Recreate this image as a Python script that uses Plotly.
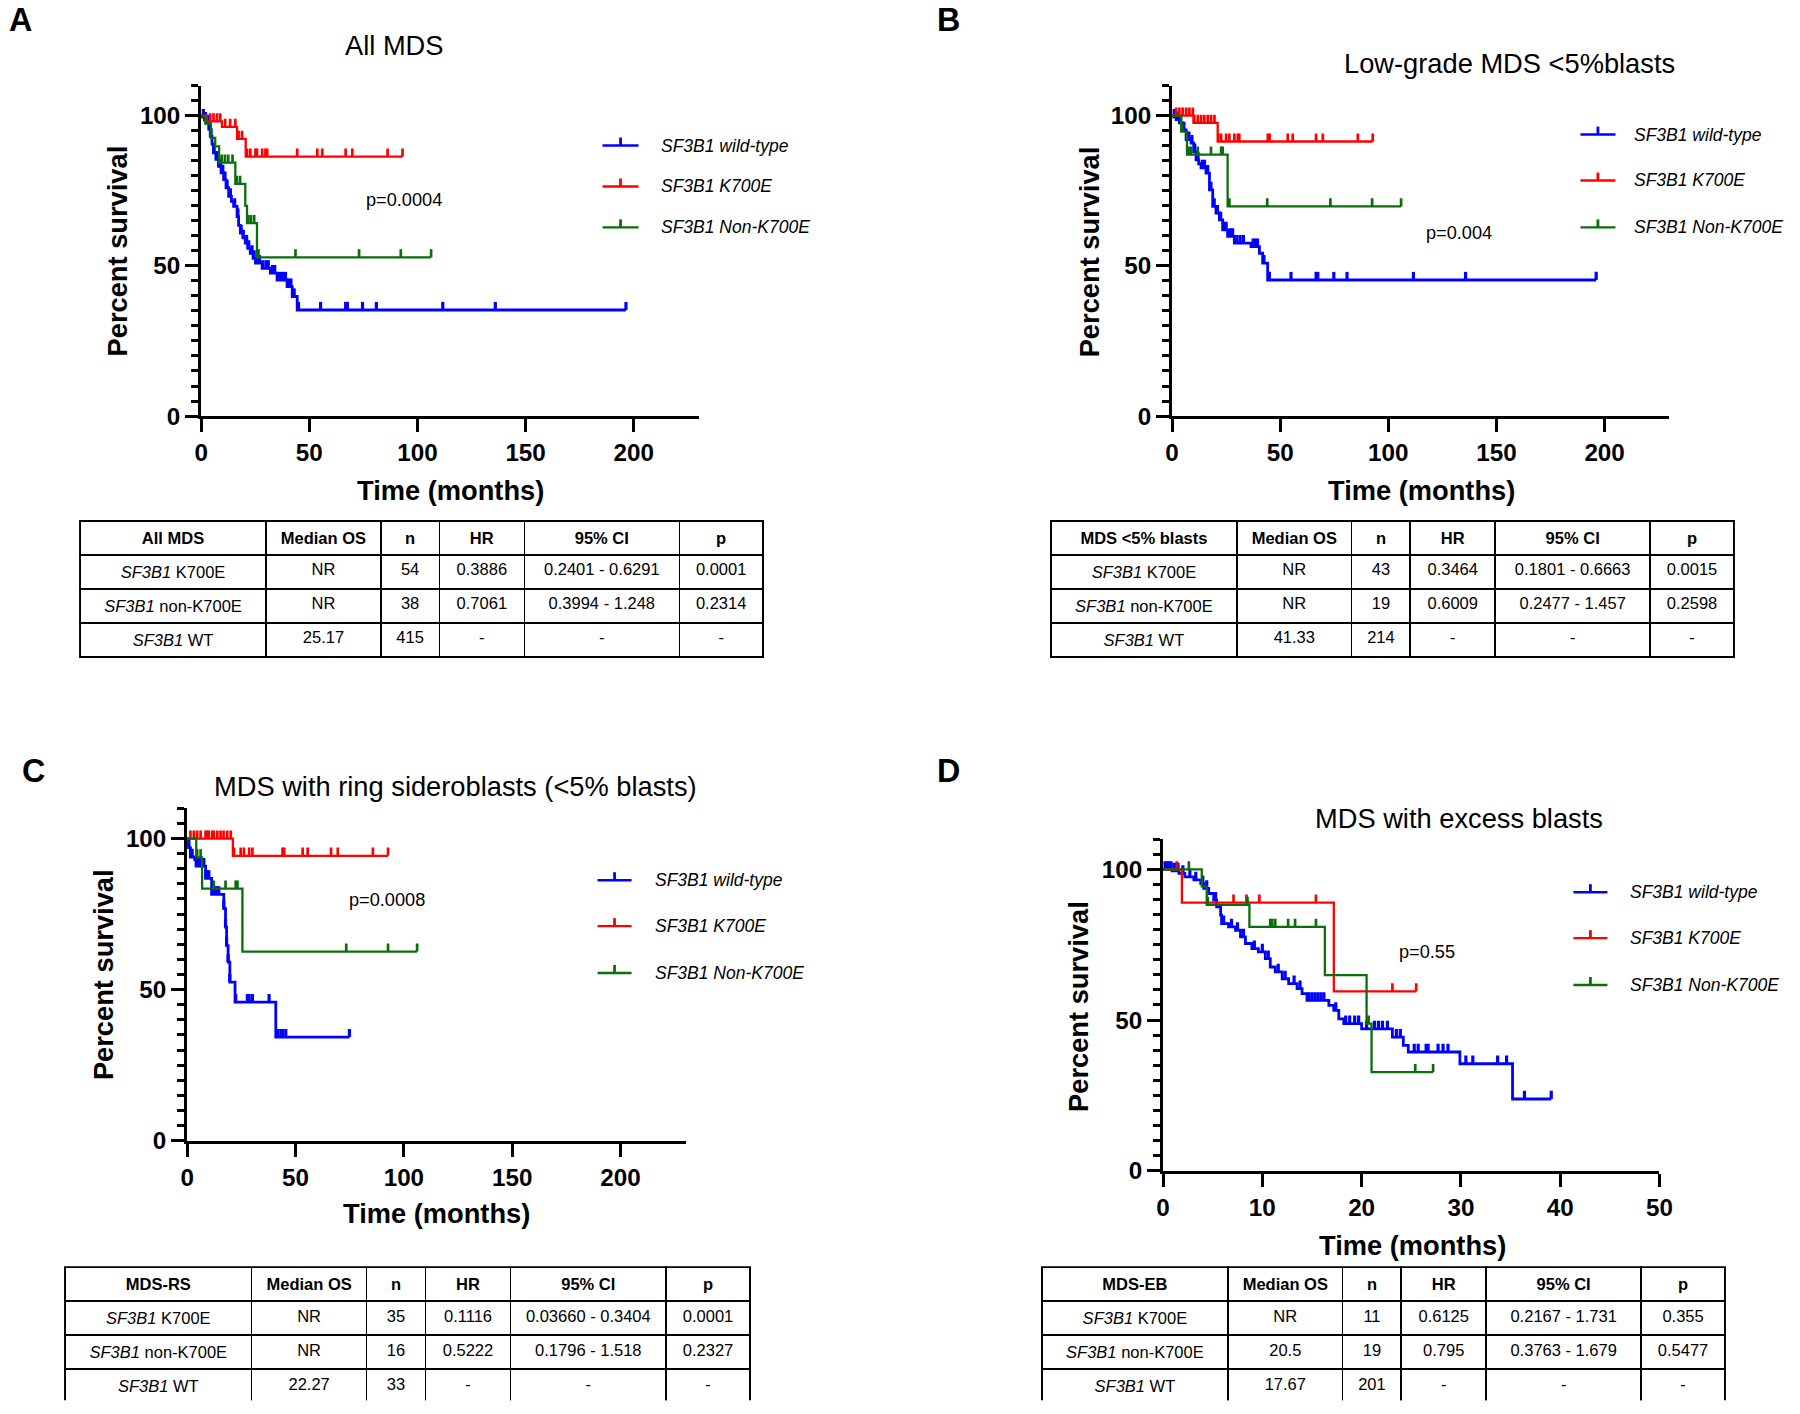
import plotly.graph_objects as go

W, H = 1800, 1414
FONT = "Liberation Sans, Arial, sans-serif"
BLUE, RED, GREEN = "#0000FF", "#FF0000", "#0A6E0A"

# ---------------- Panel A: All MDS ----------------
A_wt_t = [0.5, 1.5, 2.6, 3.5, 4.2, 5.0, 5.7, 6.8, 8.0, 9.2, 10.4, 11.5, 12.7, 14.0, 15.0, 16.6, 17.3, 18.1,
          19.3, 20.4, 21.5, 22.7, 24.0, 25.1, 28.2, 32.0, 35.1, 39.7, 42.1, 44.4]
A_wt_s = [99.5, 98.5, 97.6, 95.5, 93.1, 90.5, 87.6, 85.5, 83.1, 81.0, 78.7, 76.0, 73.1, 71.5, 69.8, 66.4, 63.5, 60.9,
          59.3, 57.6, 55.8, 54.2, 52.5, 50.9, 49.2, 47.6, 45.3, 43.1, 39.8, 35.3]
A_wt_c = [1.0, 2.0, 3.0, 4.6, 6.0, 7.5, 9.0, 10.0, 11.0, 12.0, 13.5, 15.5, 17.0, 18.5, 19.5, 21.0, 22.0, 23.5,
          24.5, 26.0, 27.0, 28.5, 30.0, 31.0, 33.0, 34.0, 36.0, 37.0, 38.0, 39.0, 40.5, 41.5, 43.0, 45.0,
          55.2, 66.8, 67.6, 74.6, 81.0, 111.7, 136.0, 196.4]
A_k7_t = [2.6, 9.6, 16.6, 20.6]
A_k7_s = [98.1, 96.3, 92.3, 86.4]
A_k7_c = [4.2, 5.7, 7.3, 8.8, 11.1, 13.4, 15.8, 17.3, 18.9, 21.2, 22.7, 25.1, 25.8, 28.2, 29.7, 30.5,
          44.4, 53.7, 56.0, 66.8, 69.9, 86.2, 93.1]
A_nk_t = [1.9, 4.5, 6.5, 8.3, 15.8, 20.4, 21.2, 25.8]
A_nk_s = [97.4, 92.6, 89.8, 84.4, 77.3, 70.0, 64.2, 52.8]
A_nk_c = [9.5, 11.0, 12.5, 14.5, 16.5, 18.0, 21.8, 23.0, 24.5, 26.5, 43.6, 73.0, 92.3, 106.3]

# ---------------- Panel B: Low-grade MDS <5% blasts ----------------
B_wt_t = [0.8, 1.9, 3.4, 4.9, 6.5, 8.8, 10.0, 11.1, 12.3, 13.4, 15.7, 17.3, 18.8, 20.3, 21.9, 23.4, 25.7, 28.8,
          36.5, 40.4, 41.9, 44.2]
B_wt_s = [99.5, 98.7, 97.6, 95.3, 92.0, 90.9, 88.0, 85.3, 84.0, 82.6, 80.9, 75.3, 69.8, 67.6, 65.3, 62.0, 59.8, 57.6,
          56.4, 54.2, 50.9, 45.3]
B_wt_c = [1.0, 2.5, 4.0, 5.5, 7.0, 7.8, 9.2, 10.5, 12.0, 14.0, 15.0, 16.5, 18.0, 19.5, 21.0, 22.5, 24.0, 25.0,
          27.0, 28.0, 30.0, 31.5, 33.0, 37.5, 38.5, 39.5, 42.5, 45.0, 55.0, 66.6, 67.4, 74.8, 80.9, 111.6, 135.7, 196.1]
B_k7_t = [9.9, 21.1]
B_k7_s = [97.6, 91.4]
B_k7_c = [1.9, 3.4, 4.9, 6.5, 8.0, 9.6, 10.3, 11.9, 13.4, 14.9, 16.5, 18.0, 19.6, 21.4, 22.7, 25.0, 26.5, 28.8,
          30.4, 31.1, 44.3, 45.1, 53.5, 55.8, 66.6, 69.7, 85.9, 92.8]
B_nk_t = [4.2, 6.9, 25.7]
B_nk_s = [94.7, 87.0, 69.8]
B_nk_c = [4.6, 8.0, 8.8, 11.9, 18.0, 22.7, 23.4, 26.5, 44.0, 73.2, 92.5, 105.9]

# ---------------- Panel C: MDS with ring sideroblasts ----------------
C_wt_t = [0.5, 1.5, 3.5, 4.1, 8.5, 11.3, 16.9, 17.7, 18.2, 18.9, 19.7, 22.1, 40.9]
C_wt_s = [97.0, 93.9, 93.0, 90.9, 86.8, 81.5, 76.8, 70.7, 64.6, 59.1, 52.5, 45.9, 34.3]
C_wt_c = [0.8, 2.3, 4.6, 5.4, 6.2, 6.9, 7.7, 8.8, 9.3, 10.0, 11.6, 12.3, 13.1, 13.9, 14.6, 16.9, 17.7, 18.2,
          18.9, 19.7, 22.4, 27.8, 28.6, 30.1, 37.8, 41.7, 43.2, 44.0, 45.5, 74.9]
C_k7_t = [21.1]
C_k7_s = [94.3]
C_k7_c = [1.5, 3.1, 4.6, 6.2, 8.5, 9.2, 10.0, 11.6, 12.3, 13.9, 15.4, 16.8, 18.5, 20.1, 21.6, 24.7, 26.2, 28.6,
          30.1, 44.0, 44.8, 53.3, 55.6, 66.4, 69.5, 85.7, 92.7]
C_nk_t = [4.2, 6.9, 25.5]
C_nk_s = [93.8, 83.4, 62.6]
C_nk_c = [4.6, 6.2, 12.3, 17.7, 22.4, 23.2, 73.4, 92.7, 106.1]

# ---------------- Panel D: MDS with excess blasts ----------------
D_wt_t = [0.9, 1.6, 2.2, 3.1, 3.8, 4.1, 4.6, 5.1, 5.4, 5.8, 5.9, 6.6, 7.3, 7.8, 8.3, 8.95, 9.6, 10.3, 10.8, 11.3,
          12.0, 12.65, 13.5, 14.0, 14.5, 16.7, 17.2, 17.7, 18.2, 20.0, 23.1, 24.2, 24.7, 29.9, 35.2]
D_wt_s = [99.5, 98.7, 97.5, 96.5, 95.3, 93.7, 92.0, 89.8, 87.6, 84.8, 82.0, 80.9, 79.8, 77.6, 75.4, 73.7, 72.6, 70.4,
          67.6, 66.0, 63.7, 62.1, 60.4, 58.8, 56.5, 54.9, 53.2, 50.4, 48.8, 47.1, 44.3, 41.6, 39.4, 35.5, 23.8]
D_wt_c = [0.2, 0.4, 0.6, 0.8, 1.1, 1.3, 1.5, 2.0, 2.7, 3.3, 4.0, 4.4, 5.3, 6.1, 6.9, 7.5, 8.1, 9.2, 10.0, 10.6,
          11.6, 12.3, 13.2, 13.8, 14.7, 15.0, 15.3, 15.6, 15.9, 16.2, 17.4, 18.4, 18.8, 19.3, 19.7, 20.5, 21.3,
          21.7, 22.1, 22.6, 23.5, 23.9, 25.3, 25.7, 26.5, 26.7, 27.7, 28.2, 28.7, 30.5, 31.2, 33.7, 34.6, 36.4, 39.1]
D_k7_t = [1.9, 17.2]
D_k7_s = [89.0, 59.5]
D_k7_c = [1.4, 7.1, 8.4, 9.7, 15.4, 23.1, 25.5]
D_nk_t = [3.9, 4.4, 8.7, 16.3, 20.5, 21.0]
D_nk_s = [94.4, 88.2, 80.9, 64.9, 48.8, 32.7]
D_nk_c = [2.6, 4.5, 8.5, 10.8, 11.0, 11.3, 12.6, 13.3, 15.4, 20.7, 25.4, 27.2]

# ---------------- Text ----------------
panel_titles = ["All MDS", "Low-grade MDS <5%blasts", "MDS with ring sideroblasts (<5% blasts)", "MDS with excess blasts"]
panel_letters = ["A", "B", "C", "D"]
p_values = ["p=0.0004", "p=0.004", "p=0.0008", "p=0.55"]
legend_labels = ["SF3B1 wild-type", "SF3B1 K700E", "SF3B1 Non-K700E"]
x_title, y_title = "Time (months)", "Percent survival"

table_headers = [["All MDS", "Median OS", "n", "HR", "95% CI", "p"],
                 ["MDS <5% blasts", "Median OS", "n", "HR", "95% CI", "p"],
                 ["MDS-RS", "Median OS", "n", "HR", "95% CI", "p"],
                 ["MDS-EB", "Median OS", "n", "HR", "95% CI", "p"]]
row_labels = ["<i>SF3B1</i> K700E", "<i>SF3B1</i> non-K700E", "<i>SF3B1</i> WT"]
A_median = ["NR", "NR", "25.17"]; A_n = ["54", "38", "415"]; A_hr = ["0.3886", "0.7061", "-"]
A_ci = ["0.2401 - 0.6291", "0.3994 - 1.248", "-"]; A_p = ["0.0001", "0.2314", "-"]
B_median = ["NR", "NR", "41.33"]; B_n = ["43", "19", "214"]; B_hr = ["0.3464", "0.6009", "-"]
B_ci = ["0.1801 - 0.6663", "0.2477 - 1.457", "-"]; B_p = ["0.0015", "0.2598", "-"]
C_median = ["NR", "NR", "22.27"]; C_n = ["35", "16", "33"]; C_hr = ["0.1116", "0.5222", "-"]
C_ci = ["0.03660 - 0.3404", "0.1796 - 1.518", "-"]; C_p = ["0.0001", "0.2327", "-"]
D_median = ["NR", "20.5", "17.67"]; D_n = ["11", "19", "201"]; D_hr = ["0.6125", "0.795", "-"]
D_ci = ["0.2167 - 1.731", "0.3763 - 1.679", "-"]; D_p = ["0.355", "0.5477", "-"]

# ---------------- Layout geometry (target pixels) ----------------
plot_boxes = [(201, 698, 85, 416), (1171, 1668, 85, 416), (187, 685, 809, 1142), (1162, 1658, 840, 1172)]
x_ranges = [230, 230, 230, 50]
x_ticks = [[0, 50, 100, 150, 200]] * 3 + [[0, 10, 20, 30, 40, 50]]
p_pos = [(404, 200), (1458, 233), (387, 901), (1426, 953)]
title_pos = [(394, 45), (1508, 63), (455, 787), (1458, 819)]
letter_pos = [(None, None), (948, None), (33, 772), (948, 772)]
ytitle_pos = [(117, 251), (1088, 251), (103, 976), (1078, 1007)]
xtitle_pos = [(450, 491), (1420, 491), (436, 1215), (1411, 1247)]
legend_geo = [(602, 638, 658, [145, 186, 227]), (1579, 1614, 1631, [134, 180, 227]),
              (597, 631, 652, [881, 927, 974]), (1572, 1606, 1627, [893, 939, 986])]
# tables: (left, right, top, bottom, row height); the lower pair sits on the page edge
table_boxes = [(80, 763, 521, 675, 34), (1050, 1733, 521, 675, 34), (65, 750, 1279, None, 31.5),
               (1041, 1724, 1279, None, 31.5)]
col_widths = [162, 100, 51, 74, 135, 73]
TICK = 2.7
SX, OX, SY, OY = 0.988, 7.0, 0.9926, -0.8
FS = 1.01


def px(x):
    return ((x - OX) / SX) / W


def py(y):
    return 1 - ((y - OY) / SY) / H


def step_xy(t, s, c):
    end = max(c + t)
    return [0] + t + [end], [100] + s + [s[-1]]


def surv_at(t, s, c):
    v = 100
    for ti, si in zip(t, s):
        if ti <= c:
            v = si
        else:
            break
    return v


fig = go.Figure()

panels = [
    [(A_wt_t, A_wt_s, A_wt_c, BLUE), (A_k7_t, A_k7_s, A_k7_c, RED), (A_nk_t, A_nk_s, A_nk_c, GREEN)],
    [(B_wt_t, B_wt_s, B_wt_c, BLUE), (B_k7_t, B_k7_s, B_k7_c, RED), (B_nk_t, B_nk_s, B_nk_c, GREEN)],
    [(C_wt_t, C_wt_s, C_wt_c, BLUE), (C_k7_t, C_k7_s, C_k7_c, RED), (C_nk_t, C_nk_s, C_nk_c, GREEN)],
    [(D_wt_t, D_wt_s, D_wt_c, BLUE), (D_k7_t, D_k7_s, D_k7_c, RED), (D_nk_t, D_nk_s, D_nk_c, GREEN)],
]
tables = [
    (A_median, A_n, A_hr, A_ci, A_p), (B_median, B_n, B_hr, B_ci, B_p),
    (C_median, C_n, C_hr, C_ci, C_p), (D_median, D_n, D_hr, D_ci, D_p),
]

annotations = []
shapes = []
layout_axes = {}

for i, groups in enumerate(panels):
    k = "" if i == 0 else str(i + 1)
    xa, ya = "x" + k, "y" + k
    for (t, s, c, col) in groups:
        lw = 2.8 if col == BLUE else 2.3
        sx, sy = step_xy(t, s, c)
        fig.add_trace(go.Scatter(x=sx, y=sy, mode="lines", line=dict(color=col, width=lw, shape="hv"),
                                 xaxis=xa, yaxis=ya, showlegend=False, hoverinfo="skip"))
        cx, cy = [], []
        for ci in c:
            v = surv_at(t, s, ci)
            cx += [ci, ci, None]
            cy += [v, v + TICK, None]
        fig.add_trace(go.Scatter(x=cx, y=cy, mode="lines", line=dict(color=col, width=lw + 0.4),
                                 xaxis=xa, yaxis=ya, showlegend=False, hoverinfo="skip"))
    x0, x1, yt, yb = plot_boxes[i]
    tf = dict(size=24 * FS, color="black", family=FONT, weight="bold")
    layout_axes["xaxis" + k] = dict(
        domain=[px(x0), px(x1)], range=[0, x_ranges[i]], anchor=ya, showline=True, linewidth=3,
        linecolor="black", ticks="outside", ticklen=13, tickwidth=3, tickcolor="black",
        tickvals=x_ticks[i], tickfont=tf, showgrid=False, zeroline=False)
    layout_axes["yaxis" + k] = dict(
        domain=[py(yb), py(yt)], range=[0, 110], anchor=xa, showline=True, linewidth=3,
        linecolor="black", ticks="outside", ticklen=13, tickwidth=3, tickcolor="black",
        tickvals=[0, 50, 100], tickfont=tf,
        minor=dict(tick0=0, dtick=5, ticks="outside", ticklen=7, tickwidth=3, tickcolor="black", showgrid=False),
        showgrid=False, zeroline=False)

    annotations.append(dict(x=px(p_pos[i][0]), y=py(p_pos[i][1]), xref="paper", yref="paper", text=p_values[i],
                            showarrow=False, font=dict(size=18 * FS, color="black"), xanchor="center",
                            yanchor="middle"))
    annotations.append(dict(x=px(title_pos[i][0]), y=py(title_pos[i][1]), xref="paper", yref="paper",
                            text=panel_titles[i], showarrow=False, font=dict(size=27 * FS, color="black"),
                            xanchor="center", yanchor="middle"))
    lxp, lyp = letter_pos[i]
    annotations.append(dict(x=0.0 if lxp is None else px(lxp), y=1.0 if lyp is None else py(lyp),
                            xref="paper", yref="paper",
                            text="<b>%s</b>" % panel_letters[i], showarrow=False,
                            font=dict(size=32 * FS, color="black"),
                            xanchor="left" if lxp is None else "center",
                            yanchor="top" if lyp is None else "middle"))
    annotations.append(dict(x=px(ytitle_pos[i][0]), y=py(ytitle_pos[i][1]), xref="paper", yref="paper",
                            text="<b>%s</b>" % y_title, showarrow=False, textangle=-90,
                            font=dict(size=27 * FS, color="black"), xanchor="center", yanchor="middle"))
    annotations.append(dict(x=px(xtitle_pos[i][0]), y=py(xtitle_pos[i][1]), xref="paper", yref="paper",
                            text="<b>%s</b>" % x_title, showarrow=False,
                            font=dict(size=27 * FS, color="black"), xanchor="center", yanchor="middle"))
    lx0, lx1, tx, ys = legend_geo[i]
    for (lab, (_, _, _, col), yy) in zip(legend_labels, groups, ys):
        shapes.append(dict(type="line", xref="paper", yref="paper", x0=px(lx0), x1=px(lx1), y0=py(yy), y1=py(yy),
                           line=dict(color=col, width=2.4)))
        xm = (lx0 + lx1) / 2
        shapes.append(dict(type="line", xref="paper", yref="paper", x0=px(xm), x1=px(xm), y0=py(yy), y1=py(yy - 8),
                           line=dict(color=col, width=2.8)))
        annotations.append(dict(x=px(tx), y=py(yy), xref="paper", yref="paper", text="<i>%s</i>" % lab,
                                showarrow=False, font=dict(size=17.5, color="black"), xanchor="left",
                                yanchor="middle"))
    tx0, tx1, ty0, ty1, rh = table_boxes[i]
    med, n, hr, ci, pv = tables[i]
    top = py(ty0) if ty1 is not None else 1 - ty0 / H
    bottom = py(ty1) if ty1 is not None else 0.0
    fig.add_trace(go.Table(
        domain=dict(x=[px(tx0), px(tx1)], y=[bottom, top]),
        columnwidth=col_widths,
        header=dict(values=["<b>%s</b>" % h for h in table_headers[i]], height=rh, align="center",
                    line=dict(color="black", width=1.5), fill=dict(color="white"),
                    font=dict(size=16.5, color="black", family=FONT)),
        cells=dict(values=[row_labels, med, n, hr, ci, pv], height=rh, align="center",
                   line=dict(color="black", width=1.5), fill=dict(color="white"),
                   font=dict(size=16.5, color="black", family=FONT))))

fig.update_layout(
    width=W, height=H, margin=dict(l=0, r=0, t=0, b=0), paper_bgcolor="white", plot_bgcolor="white",
    font=dict(family=FONT, color="black"), showlegend=False, annotations=annotations, shapes=shapes,
    **layout_axes)

fig.write_html("out.html", config={"displayModeBar": False},
               post_script="document.body.style.margin='0px';document.body.style.overflow='hidden';")
